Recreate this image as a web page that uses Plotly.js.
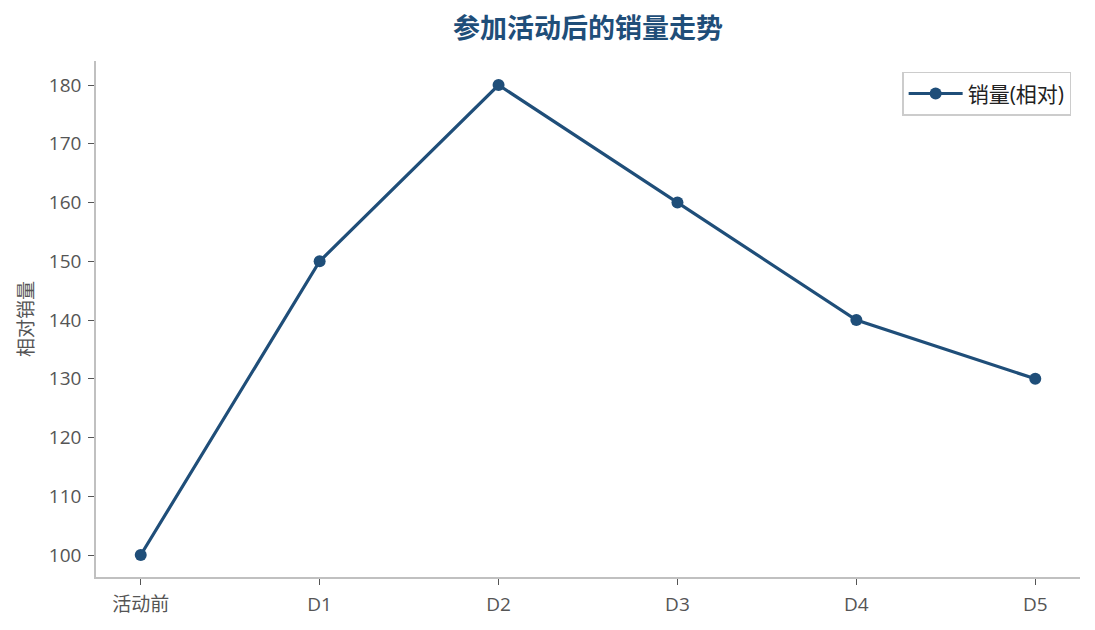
<!DOCTYPE html>
<html>
<head>
<meta charset="utf-8">
<script src="https://cdn.plot.ly/plotly-3.0.1.min.js"></script>
<style>
  html, body { margin: 0; padding: 0; background: #fff; }
  #chart { width: 1095px; height: 630px; }
</style>
</head>
<body>
<div id="chart"></div>
<script>
var days = ['活动前', 'D1', 'D2', 'D3', 'D4', 'D5'];
var sales = [100, 150, 180, 160, 140, 130];
var yTicks = [100, 110, 120, 130, 140, 150, 160, 170, 180];

var font = '"Open Sans", "Noto Sans CJK SC", sans-serif';
var cjk = '"Noto Sans CJK SC", "Open Sans", sans-serif';

var trace1 = {
  x: days,
  y: sales,
  mode: 'lines+markers',
  type: 'scatter',
  name: '销量(相对)',
  line: { color: '#1f4e79', width: 3.2 },
  marker: { color: '#1f4e79', size: 12 }
};

var layout = {
  width: 1095,
  height: 630,
  margin: { l: 96, r: 15, t: 61, b: 53 },
  paper_bgcolor: '#fff',
  plot_bgcolor: '#fff',
  font: { family: font, size: 19, color: '#555' },
  title: {
    text: '<b>参加活动后的销量走势</b>',
    font: { family: cjk, size: 27, color: '#1f4e79' },
    x: 0.537,
    xanchor: 'center',
    y: 0.955,
    yanchor: 'middle'
  },
  xaxis: {
    type: 'category',
    range: [-0.25, 5.25],
    showgrid: false,
    zeroline: false,
    showline: true,
    linecolor: '#c0c0c0',
    linewidth: 1.5,
    ticks: 'outside',
    ticklen: 6,
    tickcolor: '#555',
    ticklabelstandoff: 3,
    tickfont: { family: font, size: 19, color: '#555' }
  },
  yaxis: {
    range: [96.26, 184.09],
    tickvals: yTicks,
    showgrid: false,
    zeroline: false,
    showline: true,
    linecolor: '#c0c0c0',
    linewidth: 1.5,
    ticks: 'outside',
    ticklen: 6,
    tickcolor: '#555',
    ticklabelstandoff: 3,
    tickfont: { family: font, size: 19, color: '#555' },
    title: { text: '相对销量', font: { family: cjk, size: 19, color: '#555' }, standoff: 10 }
  },
  showlegend: true,
  legend: {
    x: 0.991,
    xanchor: 'right',
    y: 0.979,
    yanchor: 'top',
    bgcolor: '#fff',
    bordercolor: '#cccccc',
    borderwidth: 1.5,
    itemwidth: 54,
    font: { family: font, size: 21, color: '#222' }
  }
};

Plotly.newPlot('chart', [trace1], layout, { displayModeBar: false });
</script>
</body>
</html>
